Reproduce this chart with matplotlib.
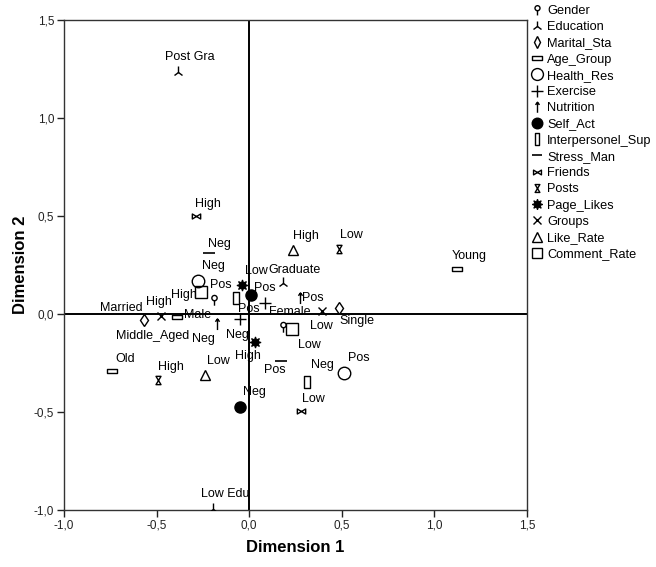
import matplotlib
matplotlib.use("Agg")
import matplotlib.pyplot as plt
from matplotlib.path import Path
from matplotlib.lines import Line2D

plt.rcParams['font.family'] = ['Liberation Sans', 'DejaVu Sans']

# ---------------- data ----------------
variables = ["Gender", "Education", "Marital_Sta", "Age_Group", "Health_Res", "Exercise",
             "Nutrition", "Self_Act", "Interpersonel_Sup", "Stress_Man", "Friends", "Posts",
             "Page_Likes", "Groups", "Like_Rate", "Comment_Rate"]

point_var = ["Gender", "Gender",
             "Education", "Education", "Education",
             "Marital_Sta", "Marital_Sta",
             "Age_Group", "Age_Group", "Age_Group",
             "Health_Res", "Health_Res",
             "Exercise", "Exercise",
             "Nutrition", "Nutrition",
             "Self_Act", "Self_Act",
             "Interpersonel_Sup", "Interpersonel_Sup",
             "Stress_Man", "Stress_Man",
             "Friends", "Friends",
             "Posts", "Posts",
             "Page_Likes", "Page_Likes",
             "Groups", "Groups",
             "Like_Rate", "Like_Rate",
             "Comment_Rate", "Comment_Rate"]
point_label = ["Male", "Female",
               "Post Gra", "Graduate", "Low Edu",
               "Married", "Single",
               "Young", "Middle_Aged", "Old",
               "Pos", "Neg",
               "Pos", "Neg",
               "Pos", "Neg",
               "Pos", "Neg",
               "Pos", "Neg",
               "Pos", "Neg",
               "High", "Low",
               "High", "Low",
               "High", "Low",
               "High", "Low",
               "High", "Low",
               "High", "Low"]
dim1 = [-0.188, 0.182,
        -0.385, 0.182, -0.196,
        -0.566, 0.485,
        1.123, -0.389, -0.742,
        0.512, -0.274,
        0.088, -0.047,
        0.272, -0.173,
        0.011, -0.047,
        -0.072, 0.314,
        0.170, -0.215,
        -0.286, 0.281,
        -0.494, 0.483,
        0.032, -0.038,
        -0.476, 0.393,
        0.236, -0.236,
        -0.259, 0.232]
dim2 = [0.071, -0.068,
        1.236, 0.157, -0.993,
        -0.031, 0.032,
        0.228, -0.017, -0.289,
        -0.303, 0.170,
        0.058, -0.027,
        0.080, -0.051,
        0.097, -0.473,
        0.083, -0.345,
        -0.238, 0.310,
        0.502, -0.493,
        -0.337, 0.330,
        -0.141, 0.148,
        -0.009, 0.015,
        0.327, -0.311,
        0.111, -0.078]

x_ticks = [-1.0, -0.5, 0.0, 0.5, 1.0, 1.5]
y_ticks = [-1.0, -0.5, 0.0, 0.5, 1.0, 1.5]
tick_text = ["-1,0", "-0,5", "0,0", "0,5", "1,0", "1,5"]

# label offsets (pixels, dx, dy up) - placement only
label_offset = [(-17, -15), (7, 15),
                (12, 15), (12, 13), (12, 15),
                (-23, 12), (18, -13),
                (12, 13), (-25, -19), (13, 12),
                (15, 15), (15, 15),
                (-1, 15), (-3, -16),
                (13, 0), (-14, -15),
                (-2, -14), (14, 15),
                (-15, 13), (15, 17),
                (-6, -9), (10, 9),
                (12, 12), (12, 12),
                (13, 13), (13, 14),
                (-7, -14), (14, 14),
                (-2, 14), (-1, -15),
                (13, 14), (13, 14),
                (-17, -3), (17, -16)]

# ---------------- marker shapes ----------------
M, L, C = Path.MOVETO, Path.LINETO, Path.CLOSEPOLY

gender_path = Path.make_compound_path(
    Path.circle((0, 0.35), 0.38),
    Path([(0, -0.03), (0, -0.75)], [M, L]))
age_path = Path([(-1, -0.42), (1, -0.42), (1, 0.42), (-1, 0.42), (-1, -0.42)], [M, L, L, L, C])
inter_path = Path([(-0.42, -1), (0.42, -1), (0.42, 1), (-0.42, 1), (-0.42, -1)], [M, L, L, L, C])
nutr_path = Path([(0, -1), (0, 1), (-0.38, 0.5), (0, 1), (0.38, 0.5)], [M, L, M, L, L])
friends_path = Path([(-1, 0.6), (-1, -0.6), (0, 0), (-1, 0.6),
                     (1, 0.6), (1, -0.6), (0, 0), (1, 0.6)],
                    [M, L, L, C, M, L, L, C])
posts_path = Path([(-0.6, 1), (0.6, 1), (0, 0), (-0.6, 1),
                   (-0.6, -1), (0.6, -1), (0, 0), (-0.6, -1)],
                  [M, L, L, C, M, L, L, C])

styles = {
    "Gender": dict(marker=gender_path, ms=7.5, mfc='none', mew=1.0),
    "Education": dict(marker='2', ms=8, mfc='none', mew=1.0),
    "Marital_Sta": dict(marker='d', ms=6, mfc='white', mew=1.0),
    "Age_Group": dict(marker=age_path, ms=7, mfc='none', mew=1.0),
    "Health_Res": dict(marker='o', ms=9, mfc='none', mew=1.0),
    "Exercise": dict(marker='+', ms=9, mfc='none', mew=1.0),
    "Nutrition": dict(marker=nutr_path, ms=8, mfc='none', mew=1.0),
    "Self_Act": dict(marker='o', ms=8, mfc='black', mew=1.0),
    "Interpersonel_Sup": dict(marker=inter_path, ms=9, mfc='none', mew=1.0),
    "Stress_Man": dict(marker='_', ms=8, mfc='none', mew=1.2),
    "Friends": dict(marker=friends_path, ms=6, mfc='none', mew=1.0),
    "Posts": dict(marker=posts_path, ms=6, mfc='none', mew=1.0),
    "Page_Likes": dict(marker=(8, 1, 0), ms=8, mfc='black', mew=0.8),
    "Groups": dict(marker='x', ms=5.5, mfc='none', mew=1.0),
    "Like_Rate": dict(marker='^', ms=7, mfc='none', mew=1.0),
    "Comment_Rate": dict(marker='s', ms=8, mfc='none', mew=1.0),
}

# ---------------- figure ----------------
W, H = 656, 567
fig = plt.figure(figsize=(W / 100, H / 100), dpi=100)
ax = fig.add_axes([64 / W, 1 - 510 / H, (527 - 64) / W, (510 - 20) / H])

ax.axhline(0, color='black', lw=1.4, zorder=1)
ax.axvline(0, color='black', lw=1.4, zorder=1)

for var in variables:
    idx = [i for i, v in enumerate(point_var) if v == var]
    st = styles[var]
    ax.plot([dim1[i] for i in idx], [dim2[i] for i in idx], linestyle='none',
            marker=st['marker'], markersize=st['ms'], markerfacecolor=st['mfc'],
            markeredgecolor='black', markeredgewidth=st['mew'], color='black', zorder=3)

for i, lab in enumerate(point_label):
    ax.annotate(lab, (dim1[i], dim2[i]), xytext=label_offset[i], textcoords='offset pixels',
                ha='center', va='center', fontsize=9, color='black', zorder=4)

ax.set_xlim(-1.0, 1.5)
ax.set_ylim(-1.0, 1.5)
ax.set_xticks(x_ticks)
ax.set_xticklabels(tick_text)
ax.set_yticks(y_ticks)
ax.set_yticklabels(tick_text)
ax.tick_params(direction='out', length=5, width=1, labelsize=8.5, colors='#222222', pad=2)
for s in ax.spines.values():
    s.set_linewidth(1.0)
    s.set_color('#333333')

ax.set_xlabel("Dimension 1", fontsize=12, fontweight='bold', labelpad=6)
ax.set_ylabel("Dimension 2", fontsize=12, fontweight='bold', labelpad=4)

handles = []
for var in variables:
    st = styles[var]
    handles.append(Line2D([], [], linestyle='none', marker=st['marker'],
                          markersize=st['ms'] * 0.95, markerfacecolor=st['mfc'],
                          markeredgecolor='black', markeredgewidth=st['mew'], color='black'))
fig.legend(handles, variables, loc='upper left', bbox_to_anchor=(531 / W, 1 - 5 / H),
           frameon=False, fontsize=9.2, handlelength=1.0, handletextpad=0.25,
           labelspacing=0.33, borderpad=0, borderaxespad=0)

fig.savefig("out.png", dpi=100)
